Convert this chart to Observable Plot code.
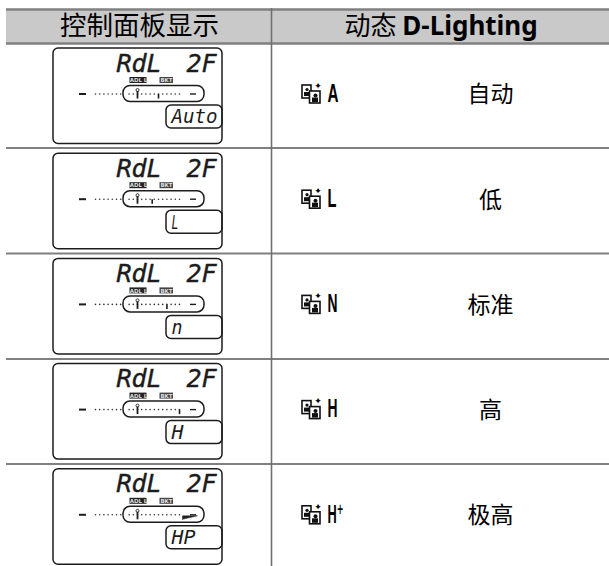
<!DOCTYPE html>
<html><head><meta charset="utf-8">
<script src="https://cdn.jsdelivr.net/npm/d3@7"></script>
<script src="https://cdn.jsdelivr.net/npm/@observablehq/plot@0.6"></script>
<style>html,body{margin:0;padding:0;background:#fff}svg{display:block}</style>
</head><body><div id="chart"></div>
<script>
// table content
const headerLeft = "控制面板显示";
const headerCjk = "动态";
const headerLatin = "D-Lighting";
const settings = ["A", "L", "N", "H", "H⁺"];
const levelNames = ["自动", "低", "标准", "高", "极高"];
const panelModes = ["Auto", "L", "n", "H", "HP"];
const markerSteps = [15, 13.5, 17, 20, null];
const lcdLeft = "RdL";
const lcdRight = "2F";
const tagLeft = "ADL L";
const tagRight = "BKT";
const indicatorSteps = d3.range(0, 21).filter(s => s !== 7);

// layout helpers
const W = 609, H = 566;
const rowTop = i => 48 + 105.2 * i;
const stepX = s => 95 + 4.2 * s;
const rows = d3.range(5);
const mono = "'DejaVu Sans Mono'";
const cjk = "'Noto Sans CJK SC'";
const sepY = [147.5, 253, 358.5, 463.5];
const dots = rows.flatMap(r => indicatorSteps.map(s => ({r, s})));
const panel = (o) => ({fill: "none", stroke: "#1c1c1c", strokeWidth: 1.5, ...o});
const modeWidths = {Auto: 46, L: 7, n: 11, H: 12, HP: 24};
const settingWidths = {A: 11, L: 9, N: 10, H: 10, "H⁺": 16};

const chart = Plot.plot({
  width: W, height: H, margin: 0,
  x: {domain: [0, W], range: [0, W], axis: null},
  y: {domain: [0, H], range: [0, H], axis: null},
  style: {background: "#fff", color: "#000"},
  marks: [
    // header
    Plot.rect([0], {x1: 6, x2: W, y1: 9, y2: 43, fill: "#c9c9c9"}),
    Plot.ruleY([9, 43], {x1: 6, x2: W, stroke: "#808080", strokeWidth: 2.4}),
    Plot.ruleY(sepY, {x1: 6, x2: W, stroke: "#808080", strokeWidth: 2}),
    Plot.ruleX([271], {y1: 8, y2: H, stroke: "#707070", strokeWidth: 1.6}),
    Plot.text([headerLeft], {x: 139, y: 26, text: d => d, fontSize: 26.5, fontFamily: cjk, fill: "#000"}),
    Plot.text([headerCjk], {x: 370, y: 26, text: d => d, fontSize: 26, fontFamily: cjk, fill: "#000"}),
    Plot.text([headerLatin], {x: 469.5, y: 26, text: d => d, fontSize: 26, fontWeight: 700, fontFamily: "'Noto Sans'", fill: "#000"}),
    // LCD panel outlines
    Plot.rect(rows, panel({x1: 53, x2: 222, y1: rowTop, y2: i => rowTop(i) + 95.5, r: 5})),
    // LCD headline text
    Plot.text(rows, {className: "lcd-l", x: 116, textAnchor: "start", y: i => rowTop(i) + 15, text: () => lcdLeft, fontSize: 25, fontStyle: "italic", fontFamily: mono, fill: "#1c1c1c", stroke: "#1c1c1c", strokeWidth: 0.4}),
    Plot.text(rows, {className: "lcd-r", x: 186, textAnchor: "start", y: i => rowTop(i) + 15, text: () => lcdRight, fontSize: 25, fontStyle: "italic", fontFamily: mono, fill: "#1c1c1c", stroke: "#1c1c1c", strokeWidth: 0.4}),
    // ADL / BKT tags
    Plot.rect(rows, {x1: 129.5, x2: 146.5, y1: i => rowTop(i) + 29, y2: i => rowTop(i) + 35, fill: "#222"}),
    Plot.rect(rows, {x1: 159.5, x2: 173, y1: i => rowTop(i) + 29, y2: i => rowTop(i) + 35, fill: "#444"}),
    Plot.text(rows, {x: 138, y: i => rowTop(i) + 32, text: () => tagLeft, fontSize: 5.5, fontWeight: 700, fontFamily: "'DejaVu Sans'", fill: "#ddd"}),
    Plot.text(rows, {x: 166, y: i => rowTop(i) + 32, text: () => tagRight, fontSize: 5.5, fontWeight: 700, fontFamily: "'DejaVu Sans'", fill: "#ddd"}),
    // indicator
    Plot.rect(rows, panel({x1: 123, x2: 204, y1: i => rowTop(i) + 37.5, y2: i => rowTop(i) + 53.5, r: 7})),
    Plot.ruleY(rows, {x1: 79, x2: 86, y: i => rowTop(i) + 45.5, stroke: "#1c1c1c", strokeWidth: 2}),
    Plot.ruleY(rows, {x1: 190, x2: 196, y: i => rowTop(i) + 45.5, stroke: "#1c1c1c", strokeWidth: 1.4}),
    Plot.dot(dots, {x: d => stepX(d.s), y: d => rowTop(d.r) + 45.5, r: 0.8, fill: "#333"}),
    Plot.dot(rows, {x: 137, y: i => rowTop(i) + 41.5, r: 1.5, stroke: "#222", fill: "#fff", strokeWidth: 0.9}),
    Plot.ruleX(rows, {x: 137, y1: i => rowTop(i) + 43, y2: i => rowTop(i) + 50.5, stroke: "#1c1c1c", strokeWidth: 1.8}),
    Plot.ruleX(rows.filter(i => markerSteps[i] !== null), {x: i => stepX(markerSteps[i]), y1: i => rowTop(i) + 46, y2: i => rowTop(i) + 50.5, stroke: "#1c1c1c", strokeWidth: 1.6}),
    Plot.line([[182, 50], [197, 46.5], [182, 46.5], [182, 50]], {x: d => d[0], y: d => rowTop(4) + d[1], fill: "#222", stroke: "#222", strokeWidth: .5, curve: "linear"}),
    // mode box
    Plot.rect(rows, panel({x1: 166, x2: 222, y1: i => rowTop(i) + 57, y2: i => rowTop(i) + 80, r: 5})),
    Plot.text(rows, {className: "mode", x: 171, textAnchor: "start", y: i => rowTop(i) + 68.5, text: i => panelModes[i], fontSize: 20, fontStyle: "italic", fontFamily: mono, fill: "#1c1c1c"}),
    // setting icon
    Plot.rect(rows, {x1: 302, x2: 311, y1: i => rowTop(i) + 37, y2: i => rowTop(i) + 50, fill: "#fff", stroke: "#111", strokeWidth: 1.6}),
    Plot.dot(rows, {x: 306.5, y: i => rowTop(i) + 41, r: 1.6, fill: "#111"}),
    Plot.rect(rows, {x1: 304, x2: 309, y1: i => rowTop(i) + 44, y2: i => rowTop(i) + 48, fill: "#111"}),
    Plot.rect(rows, {x1: 309.5, x2: 320, y1: i => rowTop(i) + 43, y2: i => rowTop(i) + 55, fill: "#fff", stroke: "#111", strokeWidth: 1.6}),
    Plot.dot(rows, {x: 315, y: i => rowTop(i) + 47, r: 2, fill: "#111"}),
    Plot.rect(rows, {x1: 312, x2: 318, y1: i => rowTop(i) + 49.5, y2: i => rowTop(i) + 54, fill: "#111"}),
    Plot.text(rows, {x: 317.5, y: i => rowTop(i) + 37.5, text: () => "✦", fontSize: 9, fontFamily: "'DejaVu Sans'", fill: "#000"}),
    // setting letter
    Plot.text(rows, {className: "setting", x: 327, textAnchor: "start", y: i => rowTop(i) + 45, text: i => settings[i], fontSize: 26, fontWeight: 700, fontFamily: "'Liberation Sans','DejaVu Sans'", fill: "#000"}),
    // level name
    Plot.text(rows, {x: 490, y: i => rowTop(i) + 46.5, text: i => levelNames[i], fontSize: 23, fontFamily: cjk, fill: "#000", letterSpacing: 3})
  ]
});
const root = d3.select(chart);
root.selectAll(".lcd-l text").attr("textLength", 45).attr("lengthAdjust", "spacing");
root.selectAll(".lcd-r text").attr("textLength", 30).attr("lengthAdjust", "spacing");
root.selectAll(".mode text").each(function () {
  const t = d3.select(this);
  t.attr("textLength", modeWidths[t.text()] ?? 20).attr("lengthAdjust", "spacingAndGlyphs");
});
root.selectAll(".setting text").each(function () {
  const t = d3.select(this);
  t.attr("textLength", settingWidths[t.text()] ?? 10).attr("lengthAdjust", "spacingAndGlyphs");
});
document.getElementById("chart").append(chart);
</script></body></html>
